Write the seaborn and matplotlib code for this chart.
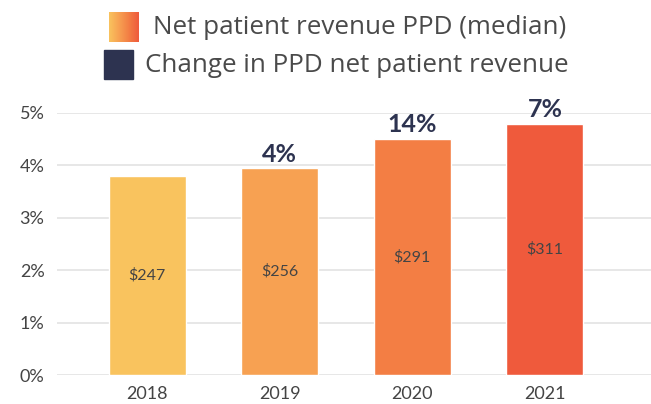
import matplotlib
matplotlib.use("Agg")
import matplotlib.pyplot as plt
import seaborn as sns
import numpy as np
import pandas as pd
from matplotlib.colors import LinearSegmentedColormap
from matplotlib.patches import Rectangle

years = ["2018", "2019", "2020", "2021"]
ppd_share = [3.79, 3.94, 4.50, 4.78]          # bar heights (%)
ppd_labels = ["$247", "$256", "$291", "$311"]  # in-bar labels
change_labels = ["", "4%", "14%", "7%"]         # above-bar labels
bar_colors = ["#F9C35E", "#F7A152", "#F37E44", "#EF5A3C"]
yticks = [0, 1, 2, 3, 4, 5]
ytick_labels = ["0%", "1%", "2%", "3%", "4%", "5%"]
legend_labels = ["Net patient revenue PPD (median)", "Change in PPD net patient revenue"]

navy = "#2D3350"
text_gray = "#444444"

sns.set_theme(style="white")
plt.rcParams["font.family"] = ["Lato", "DejaVu Sans"]

df = pd.DataFrame({"year": years, "value": ppd_share})

fig = plt.figure(figsize=(6.51, 4.04), dpi=100)
ax = fig.add_axes([57 / 651, 1 - 375 / 404, 1 - 57 / 651, (375 - 112.7) / 404])

sns.barplot(data=df, x="year", y="value", hue="year", palette=bar_colors,
            legend=False, width=0.58, ax=ax, saturation=1, zorder=3)

ax.set_xlim(-0.68, 3.8)
ax.set_ylim(0, 5)
ax.set_yticks(yticks)
ax.set_yticklabels(ytick_labels)
ax.set_xlabel("")
ax.set_ylabel("")
for s in ax.spines.values():
    s.set_visible(False)
ax.yaxis.grid(True, color="#E3E3E3", linewidth=1.2, zorder=0)
ax.xaxis.grid(False)
ax.tick_params(axis="y", length=0, pad=9, labelsize=13, labelcolor=text_gray)
ax.tick_params(axis="x", length=0, pad=8, labelsize=13, labelcolor=text_gray)

for i, (v, lab, ch) in enumerate(zip(ppd_share, ppd_labels, change_labels)):
    ax.text(i, v / 2, lab, ha="center", va="center", fontsize=11.5, color=text_gray, zorder=4)
    if ch:
        ax.annotate(ch, xy=(i, v), xytext=(0, 2), textcoords="offset points",
                    ha="center", va="bottom", fontsize=18, fontweight="bold",
                    color=navy, annotation_clip=False, zorder=4)

# Legend (manual)
cmap = LinearSegmentedColormap.from_list("grad", bar_colors)
gax = fig.add_axes([109 / 651, 1 - 42 / 404, 30 / 651, 30 / 404])
gax.imshow(np.linspace(0, 1, 100)[None, :], aspect="auto", cmap=cmap)
gax.set_axis_off()
fig.patches.append(Rectangle((104 / 651, 1 - 79 / 404), 29 / 651, 29 / 404,
                             transform=fig.transFigure, color=navy, figure=fig))
leg_font = ["Open Sans", "DejaVu Sans"]
fig.text(153 / 651, 1 - 28 / 404, legend_labels[0], ha="left", va="center",
         fontsize=18.7, color="#4a4a4a", family=leg_font)
fig.text(145 / 651, 1 - 66 / 404, legend_labels[1], ha="left", va="center",
         fontsize=18.7, color="#4a4a4a", family=leg_font)

fig.savefig("out.png", dpi=100)
